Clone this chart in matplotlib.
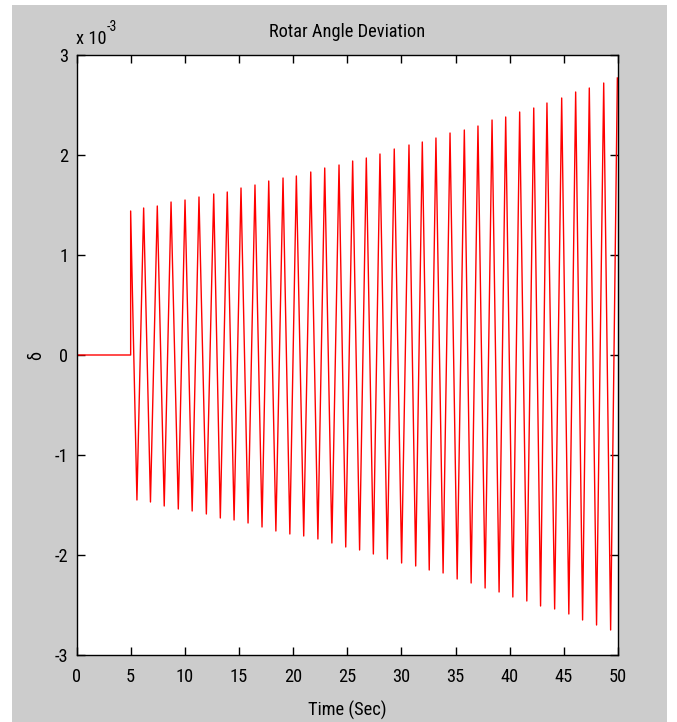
import matplotlib
matplotlib.use("Agg")
import matplotlib.pyplot as plt
from matplotlib.patches import Rectangle
from matplotlib.ticker import FuncFormatter
from matplotlib import font_manager as fm

# ---- data (values in units of 1e-3 rad) ----
pre_time = [0.0, 5.0]
pre_value = [0.0, 0.0]

peak_time = [5.00, 6.20, 7.46, 8.73, 10.02, 11.31, 12.67, 13.92, 15.19, 16.48,
             17.75, 19.07, 20.30, 21.63, 22.92, 24.24, 25.50, 26.76, 28.02, 29.34,
             30.70, 31.93, 33.19, 34.49, 35.81, 37.07, 38.37, 39.63, 40.92, 42.22,
             43.44, 44.80, 46.09, 47.35, 48.68, 49.94]
peak_value = [1.44, 1.47, 1.49, 1.53, 1.55, 1.58, 1.61, 1.63, 1.67, 1.70,
              1.74, 1.77, 1.79, 1.83, 1.87, 1.90, 1.94, 1.97, 2.01, 2.06,
              2.10, 2.13, 2.17, 2.22, 2.25, 2.29, 2.35, 2.38, 2.43, 2.47,
              2.52, 2.57, 2.63, 2.67, 2.72, 2.77]

trough_time = [5.58, 6.83, 8.10, 9.40, 10.68, 11.99, 13.28, 14.55, 15.84, 17.13,
               18.41, 19.70, 20.98, 22.29, 23.58, 24.86, 26.14, 27.41, 28.70, 30.02,
               31.32, 32.57, 33.85, 35.15, 36.44, 37.73, 39.02, 40.29, 41.58, 42.85,
               44.15, 45.46, 46.73, 48.02, 49.32]
trough_value = [-1.45, -1.47, -1.51, -1.54, -1.56, -1.59, -1.63, -1.65, -1.68, -1.72,
                -1.76, -1.79, -1.81, -1.84, -1.88, -1.92, -1.95, -1.99, -2.04, -2.08,
                -2.11, -2.15, -2.18, -2.24, -2.28, -2.33, -2.37, -2.42, -2.46, -2.51,
                -2.54, -2.59, -2.65, -2.70, -2.75]

x_ticks = [0, 5, 10, 15, 20, 25, 30, 35, 40, 45, 50]
y_ticks = [-3, -2, -1, 0, 1, 2, 3]

title = "Rotar Angle Deviation"
xlabel = "Time (Sec)"
ylabel = "δ"

# ---- assemble the series (alternating peaks and troughs) ----
t_all = list(pre_time)
v_all = list(pre_value)
for i in range(len(peak_time)):
    t_all.append(peak_time[i]); v_all.append(peak_value[i])
    if i < len(trough_time):
        t_all.append(trough_time[i]); v_all.append(trough_value[i])
v_all = [v * 1e-3 for v in v_all]

# ---- fonts: prefer a narrow Helvetica-like face if one is installed ----
avail = {f.name for f in fm.fontManager.ttflist}
pref = [n for n in ["Liberation Sans Narrow", "Arial Narrow", "Roboto Condensed"] if n in avail]
fam = pref + [n for n in ["Liberation Sans"] if n in avail]
plt.rcParams["font.family"] = fam + ["DejaVu Sans"]
FS = 13.2 if pref else 12.0

W, H = 677, 722
fig = plt.figure(figsize=(W / 100, H / 100), dpi=100, facecolor="white")
fig.patches.append(Rectangle((12 / W, 0), (667 - 12) / W, (H - 5) / H,
                             transform=fig.transFigure, facecolor="#cccccc",
                             edgecolor="none", zorder=-10))

L, R, T, B = 76.5, 618, 55, 655
ax = fig.add_axes([L / W, 1 - B / H, (R - L) / W, (B - T) / H])
ax.set_facecolor("white")
ax.plot(t_all, v_all, color="red", lw=1.0)

ax.set_xlim(0, 50)
ax.set_ylim(-3e-3, 3e-3)
ax.set_xticks(x_ticks)
ax.set_yticks([y * 1e-3 for y in y_ticks])
ax.xaxis.set_major_formatter(FuncFormatter(lambda v, p: f"{v:g}"))
ax.yaxis.set_major_formatter(FuncFormatter(lambda v, p: f"{round(v * 1e3):d}"))
ax.tick_params(direction="in", length=6, width=1, top=True, right=True,
               labelsize=FS, colors="black")
ax.tick_params(axis="x", pad=9)
ax.tick_params(axis="y", pad=6)
for s in ax.spines.values():
    s.set_linewidth(1.0)
    s.set_color("black")

ax.set_title(title, fontsize=FS, pad=13)
ax.set_xlabel(xlabel, fontsize=FS, labelpad=11)
ax.set_ylabel(ylabel, fontsize=FS, labelpad=7)

fig.text(76 / W, 1 - 44 / H, "x 10", fontsize=FS, ha="left", va="baseline")
fig.text(107 / W, 1 - 31 / H, "-3", fontsize=FS * 0.75, ha="left", va="baseline")

fig.savefig("out.png", dpi=100, facecolor=fig.get_facecolor())
